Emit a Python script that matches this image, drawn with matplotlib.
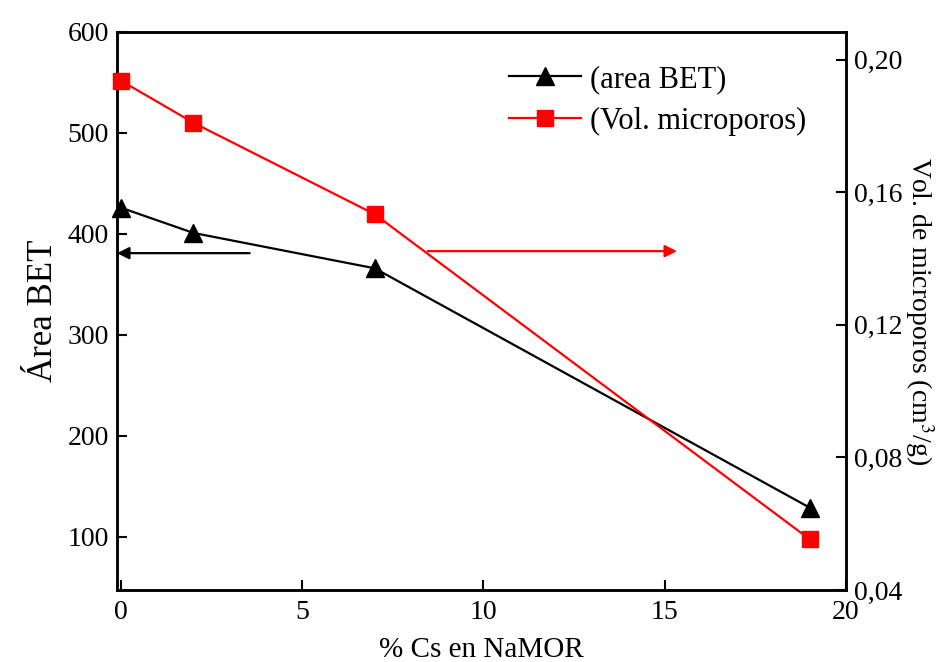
import matplotlib
matplotlib.use("Agg")
import matplotlib.pyplot as plt
from matplotlib.ticker import FuncFormatter

# data
cs_pct = [0, 2, 7, 19]
area_bet = [426, 401, 366, 129]
vol_micro = [0.1937, 0.181, 0.1534, 0.0553]

left_ticks = [100, 200, 300, 400, 500, 600]
right_ticks = [0.04, 0.08, 0.12, 0.16, 0.20]
x_ticks = [0, 5, 10, 15, 20]

plt.rcParams['font.family'] = ['Liberation Serif', 'DejaVu Serif']
plt.rcParams['mathtext.fontset'] = 'stix'


def main():
    fig = plt.figure(figsize=(9.45, 6.62), dpi=100)
    ax = fig.add_axes([0.1238, 0.1088, 0.7714, 0.8429])
    ax2 = ax.twinx()

    l1, = ax.plot(cs_pct, area_bet, color='black', lw=1.6, marker='^',
                  markersize=13, label='(area BET)', clip_on=False, zorder=3)
    l2, = ax2.plot(cs_pct, vol_micro, color='#ff0000', lw=1.6, marker='s',
                   markersize=11, label='(Vol. microporos)', clip_on=False, zorder=3)

    ax.set_xlim(-0.11, 20)
    ax.set_ylim(47.5, 600)
    ax2.set_ylim(0.04, 0.2084)

    ax.set_xticks(x_ticks)
    ax.set_yticks(left_ticks)
    ax2.set_yticks(right_ticks)
    ax2.yaxis.set_major_formatter(FuncFormatter(lambda v, p: ('%.2f' % v).replace('.', ',')))

    for a in (ax, ax2):
        a.tick_params(direction='in', length=7, width=1.5, labelsize=20)
        for s in a.spines.values():
            s.set_linewidth(1.8)
    ax.tick_params(axis='x', pad=7)
    ax.tick_params(axis='y', pad=6)
    ax2.tick_params(axis='y', pad=6)

    ax.set_xlabel('% Cs en NaMOR', fontsize=21, labelpad=9)
    ax.set_ylabel('Área BET', fontsize=25, labelpad=5)
    ax2.set_ylabel('Vol. de microporos (cm$^{3}$/g)', fontsize=20,
                   rotation=270, labelpad=24)

    # arrows pointing to each axis
    ax.annotate('', xy=(-0.11, 381), xytext=(3.55, 381),
                arrowprops=dict(arrowstyle='-|>', color='black', lw=1.6,
                                mutation_scale=18, shrinkA=0, shrinkB=0))
    ax.annotate('', xy=(15.34, 383), xytext=(8.46, 383),
                arrowprops=dict(arrowstyle='-|>', color='#ff0000', lw=1.6,
                                mutation_scale=18, shrinkA=0, shrinkB=0))

    ax.legend(handles=[l1, l2], loc='upper left', bbox_to_anchor=(0.50, 0.99),
              frameon=False, fontsize=22, handlelength=2.35, handletextpad=0.3,
              labelspacing=0.42)

    fig.savefig('out.png', dpi=100)


if __name__ == "__main__":
    main()
